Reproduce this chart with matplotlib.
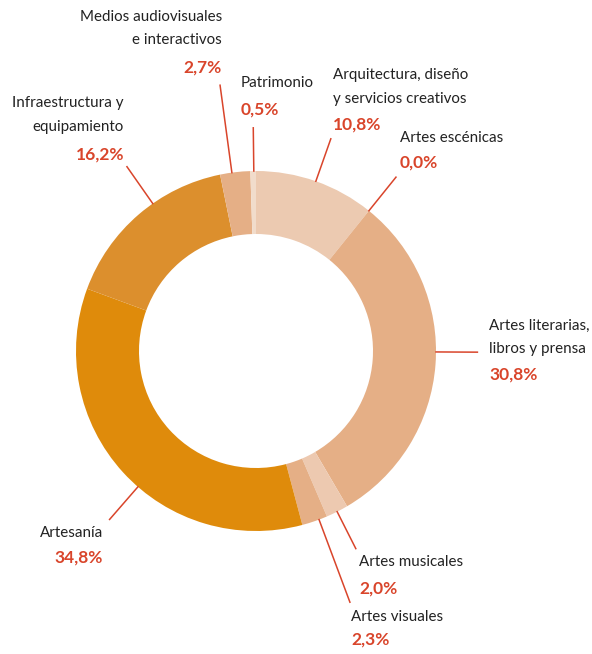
import numpy as np
import matplotlib
matplotlib.use("Agg")
import matplotlib.pyplot as plt

plt.rcParams['font.family'] = ['Lato', 'DejaVu Sans']

# data, clockwise from 12 o'clock
sectores = ["Arquitectura, diseño\ny servicios creativos", "Artes escénicas",
            "Artes literarias,\nlibros y prensa", "Artes musicales", "Artes visuales",
            "Artesanía", "Infraestructura y\nequipamiento",
            "Medios audiovisuales\ne interactivos", "Patrimonio"]
valores = [10.8, 0.0, 30.8, 2.0, 2.3, 34.8, 16.2, 2.7, 0.5]
etiquetas = ["10,8%", "0,0%", "30,8%", "2,0%", "2,3%", "34,8%", "16,2%", "2,7%", "0,5%"]
colores = ["#ECCAB1", "#E5AF86", "#E5AF86", "#EDC9B0", "#E5AF86",
           "#DF8B0B", "#DC8F2D", "#E5AF86", "#F1DCCB"]

# label layout (pixels from top-left): x, y of first text line, y of percent, align,
# leader end radius (x R), leader angle (deg clockwise from top, None = wedge middle)
layout = [
    (333, 75, 125, "left", 1.25, None),
    (400, 138, 163, "left", 1.24, None),
    (489, 326, 375, "left", 1.23, 90.3),
    (359, 562, 589, "left", 1.23, None),
    (351, 617, 640, "left", 1.49, 159.5),
    (103, 533, 558, "right", 1.24, 221.0),
    (124, 103, 155, "right", 1.25, 325.0),
    (222, 17, 68, "right", 1.49, 352.3),
    (241, 83, 110, "left", 1.24, 359.3),
]

W, H = 592, 654
cx, cy, R = 256, H - 351, 180
red = "#D9452B"

fig = plt.figure(figsize=(W / 100, H / 100), dpi=100)
ax = fig.add_axes([0, 0, 1, 1])

wedges, _ = ax.pie(valores, colors=colores, startangle=90, counterclock=False,
                   center=(cx, cy), radius=R, wedgeprops=dict(width=R * 0.35, linewidth=0))
ax.set_xlim(0, W)
ax.set_ylim(0, H)
ax.set_aspect("equal")
ax.axis("off")

for w, nombre, pct, (lx, ly, py, ha, rend, ang) in zip(wedges, sectores, etiquetas, layout):
    if ang is None:
        mid = (w.theta1 + w.theta2) / 2
    else:
        mid = 90 - ang
    t = np.deg2rad(mid)
    ax.plot([cx + R * np.cos(t), cx + R * rend * np.cos(t)],
            [cy + R * np.sin(t), cy + R * rend * np.sin(t)], color=red, lw=1.1)
    for i, linea in enumerate(nombre.split("\n")):
        ax.text(lx, H - ly - 23.5 * i, linea, ha=ha, va="center", fontsize=10.9,
                color="#222222")
    ax.text(lx, H - py, pct, ha=ha, va="center", fontsize=12.5,
            fontweight="bold", color=red)

fig.savefig("out.png", dpi=100)
